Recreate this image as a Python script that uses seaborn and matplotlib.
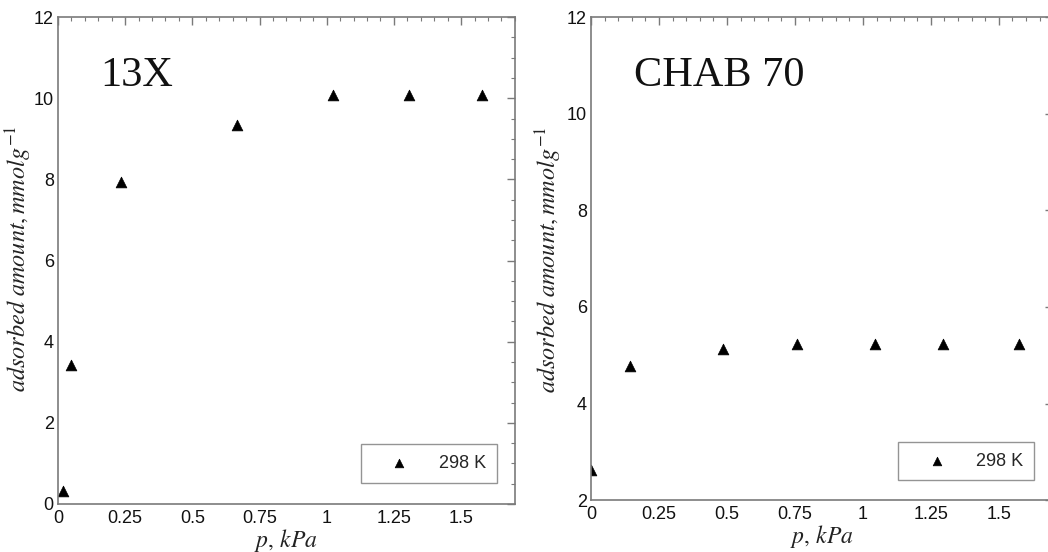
import matplotlib
matplotlib.use("Agg")
import matplotlib.pyplot as plt
import seaborn as sns
import numpy as np
from matplotlib.ticker import MultipleLocator

sns.set_theme(style="white")
plt.rcParams['font.family'] = ['Liberation Sans', 'DejaVu Sans']
plt.rcParams['mathtext.fontset'] = 'stix'

# Data
p_13x = [0.017, 0.047, 0.233, 0.667, 1.024, 1.306, 1.576]
q_13x = [0.32, 3.42, 7.94, 9.33, 10.09, 10.09, 10.09]
p_chab = [0.0, 0.143, 0.487, 0.756, 1.044, 1.293, 1.574]
q_chab = [2.62, 4.77, 5.14, 5.24, 5.24, 5.24, 5.24]
series_label = "298 K"
panel_titles = ["13X", "CHAB 70"]
xticks = [0, 0.25, 0.5, 0.75, 1, 1.25, 1.5]
xticklabels = ["0", "0.25", "0.5", "0.75", "1", "1.25", "1.5"]

fig = plt.figure(figsize=(10.48, 5.52), dpi=100)
ax1 = fig.add_axes([0.0553, 0.087, 0.436, 0.882])
ax2 = fig.add_axes([0.564, 0.0937, 0.441, 0.8755])

spine_col = "#7a7a7a"

def style(ax, ylim, yticks):
    ax.set_xlim(0, 1.7)
    ax.set_ylim(*ylim)
    ax.set_xticks(xticks)
    ax.set_xticklabels(xticklabels)
    ax.set_yticks(yticks)
    ax.xaxis.set_minor_locator(MultipleLocator(0.05))
    ax.yaxis.set_minor_locator(MultipleLocator(0.5))
    ax.tick_params(which='both', direction='in', top=True, right=True,
                   colors=spine_col, labelcolor='#111111', labelsize=13)
    ax.tick_params(which='major', length=6, width=1.0)
    ax.tick_params(which='minor', length=3, width=0.8)
    ax.tick_params(axis='x', pad=4)
    ax.tick_params(axis='y', pad=3)
    for s in ax.spines.values():
        s.set_color(spine_col)
        s.set_linewidth(1.2)
    ax.set_xlabel(r"$p,\, kPa$", fontsize=17, labelpad=0, color='#222222')
    ax.set_ylabel(r"$adsorbed\ amount, mmolg^{-1}$", fontsize=17.5, color='#222222')
    ax.grid(False)

for ax, px, qy, title, ylim, yt in [
    (ax1, p_13x, q_13x, panel_titles[0], (0, 12), [0, 2, 4, 6, 8, 10, 12]),
    (ax2, p_chab, q_chab, panel_titles[1], (2, 12), [2, 4, 6, 8, 10, 12]),
]:
    sns.scatterplot(x=px, y=qy, marker='^', color='black', s=60,
                    edgecolor='black', linewidth=0.5, label=series_label, ax=ax)
    style(ax, ylim, yt)
    ax.text(0.092, 0.858, title, transform=ax.transAxes, fontsize=30.5,
            family='Liberation Serif', color='#111111', va='baseline', ha='left')
    leg = ax.legend(loc='lower right', fontsize=13,
                    frameon=True, fancybox=False, shadow=False,
                    handlelength=3.1, handletextpad=0.65, borderpad=0.6,
                    markerscale=0.8, borderaxespad=0.0)
    leg.get_frame().set_edgecolor(spine_col)
    leg.get_frame().set_linewidth(1.0)

ax1.get_legend().set_bbox_to_anchor((0.961, 0.043), transform=ax1.transAxes)
ax2.get_legend().set_bbox_to_anchor((0.959, 0.041), transform=ax2.transAxes)

ax1.yaxis.set_label_coords(-0.052, 0.503)
ax2.yaxis.set_label_coords(-0.058, 0.497)

fig.savefig("out.png", dpi=100)
